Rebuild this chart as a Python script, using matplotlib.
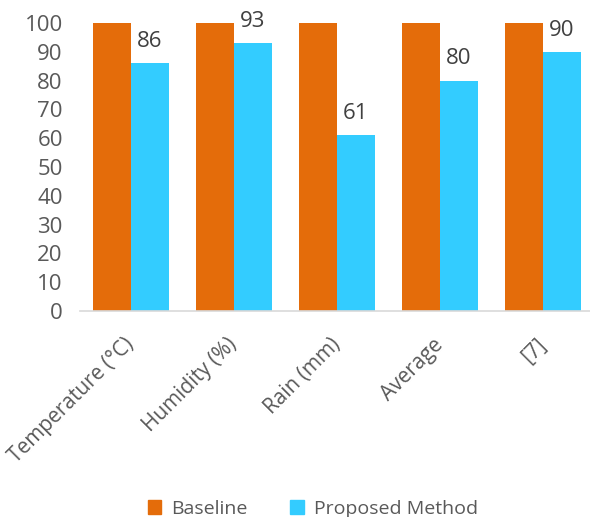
import numpy as np
import matplotlib
matplotlib.use("Agg")
import matplotlib.pyplot as plt
from matplotlib.patches import Patch

categories = ["Temperature (°C)", "Humidity (%)", "Rain (mm)", "Average", "[7]"]
baseline = [100, 100, 100, 100, 100]
proposed = [86, 93, 61, 80, 90]

C_BASE = "#E46C0A"
C_PROP = "#33CCFF"
TXT = "#595959"

plt.rcParams["font.family"] = ["Open Sans", "DejaVu Sans"]

fig = plt.figure(figsize=(5.9, 5.17), dpi=100)
ax = fig.add_axes([79.5 / 590, 1 - 311 / 517, 1 - 79.5 / 590, 288 / 517])

x = np.arange(len(categories))
w = 0.365
ax.bar(x - w / 2, baseline, w, color=C_BASE)
bars = ax.bar(x + w / 2, proposed, w, color=C_PROP)
for b, v in zip(bars, proposed):
    ax.annotate(str(v), (b.get_x() + b.get_width() / 2, v), xytext=(0, 8),
                textcoords="offset points", ha="center", va="bottom",
                fontsize=16, color="#404040")

ax.set_ylim(0, 100)
ax.set_xlim(-0.5, 4.5 - 4.5 / 103)
ax.set_yticks(range(0, 101, 10))
ax.set_xticks(x)
ax.set_xticklabels(categories, rotation=45, ha="right", va="center",
                   rotation_mode="anchor", fontsize=15, color=TXT)
ax.tick_params(axis="y", length=0, labelsize=16, labelcolor=TXT, pad=12)
ax.tick_params(axis="x", length=0, pad=22)
for s in ["top", "right", "left"]:
    ax.spines[s].set_visible(False)
ax.spines["bottom"].set_color("#D9D9D9")
ax.spines["bottom"].set_linewidth(1.2)

handles = [Patch(color=C_BASE, label="Baseline"),
           Patch(color=C_PROP, label="Proposed Method")]
fig.legend(handles=handles, loc="lower center", bbox_to_anchor=(0.53, -0.035),
           ncol=2, frameon=False, fontsize=14, handlelength=0.7, handleheight=0.7,
           columnspacing=2.2, handletextpad=0.5, labelcolor=TXT)

fig.savefig("out.png", dpi=100)
